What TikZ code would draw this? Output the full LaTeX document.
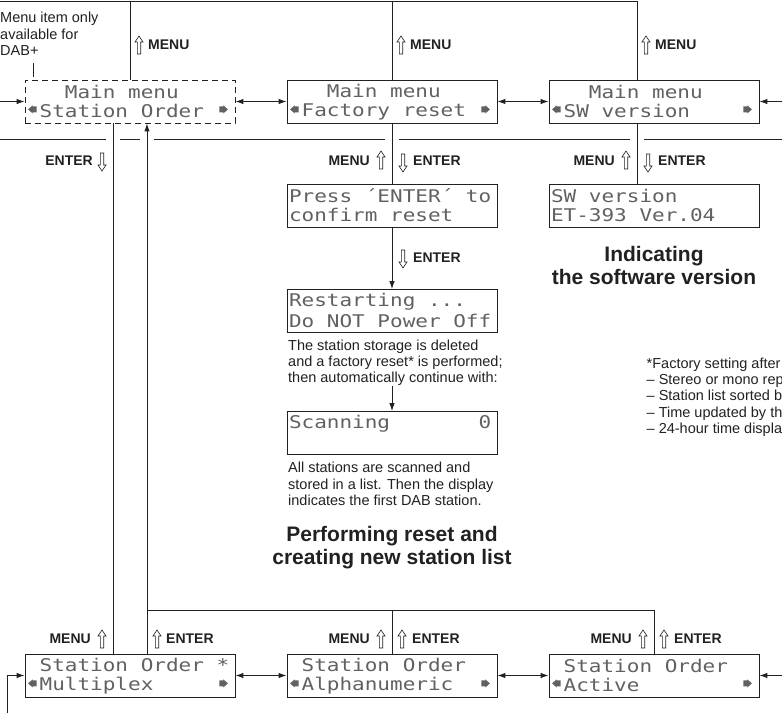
\documentclass[tikz,border=0pt]{standalone}
\usepackage{fontspec}
\setmainfont{Liberation Sans}
\newfontfamily\lcdfont[FakeStretch=1.2]{DejaVu Sans Mono}
\usetikzlibrary{arrows.meta,calc}
\definecolor{inkgray}{gray}{0.13}
\definecolor{lcdgray}{gray}{0.38}
\newcommand{\lcdstrut}{\rule[-3.5pt]{0pt}{19pt}}
\newcommand{\lsp}{\hphantom{x}}
\tikzset{
  lcdbox/.style={draw=inkgray,line width=0.8pt,minimum width=210pt,minimum height=43pt,
    text width=206pt,inner xsep=2pt,inner ysep=0pt,align=left,text=lcdgray,
    font=\lcdfont\fontsize{17.5}{19}\selectfont},
  lnk/.style={inkgray,line width=1pt},
  arr/.style={lnk,-{Latex[length=8pt,width=5.5pt]}},
  biarr/.style={lnk,{Latex[length=8pt,width=5.5pt]}-{Latex[length=8pt,width=5.5pt]}},
  keylab/.style={font=\bfseries\fontsize{14}{16}\selectfont,text=inkgray,inner sep=0pt},
  bodytxt/.style={font=\fontsize{14.5}{16.3}\selectfont,text=inkgray,inner sep=0pt,align=left},
  headtxt/.style={font=\bfseries\fontsize{21}{23.5}\selectfont,text=inkgray,inner sep=0pt,align=center},
  lmk/.pic={\fill[lcdgray] (-4.5,0) -- (0,-4) -- (0,4) -- cycle (0,-3) rectangle (4,3);},
  rmk/.pic={\fill[lcdgray] (4.5,0) -- (0,-4) -- (0,4) -- cycle (0,-3) rectangle (-4,3);},
  uarr/.pic={\draw[inkgray,line width=0.6pt,fill=white] (0,-9) -- (4,-3) -- (1.7,-3) -- (1.7,9)
    -- (-1.7,9) -- (-1.7,-3) -- (-4,-3) -- cycle;},
  darr/.pic={\draw[inkgray,line width=0.6pt,fill=white] (0,9) -- (4,3) -- (1.7,3) -- (1.7,-9)
    -- (-1.7,-9) -- (-1.7,3) -- (-4,3) -- cycle;},
}
\begin{document}
\begin{tikzpicture}[x=1pt,y=-1pt]
  \useasboundingbox (0,0) rectangle (782,713);
  % main menu row
  \node[lcdbox,dash pattern=on 6pt off 4pt] (mm1) at (130,101.5)
    {\lcdstrut\lsp\lsp\lsp Main\lsp menu\\\lcdstrut\lsp Station\lsp Order};
  \node[lcdbox] (mm2) at (392,101.5) {\lcdstrut\lsp\lsp\lsp Main\lsp menu\\\lcdstrut\lsp Factory\lsp reset};
  \node[lcdbox] (mm3) at (654,101.5) {\lcdstrut\lsp\lsp\lsp Main\lsp menu\\\lcdstrut\lsp SW\lsp version};
  % factory reset branch
  \node[lcdbox] (press) at (392,205.5) {\lcdstrut Press\lsp´ENTER´\lsp to\\\lcdstrut confirm\lsp reset};
  \node[lcdbox] (restart) at (392,311) {\lcdstrut Restarting\lsp...\\\lcdstrut Do\lsp NOT\lsp Power\lsp Off};
  \node[bodytxt,anchor=north west] (desc1) at (288,339.5)
    {The station storage is deleted\\and a factory reset* is performed;\\then automatically continue with:};
  \node[lcdbox] (scan) at (392,433)
    {\lcdstrut Scanning\lsp\lsp\lsp\lsp\lsp\lsp\lsp 0\\\lcdstrut};
  \node[bodytxt,anchor=north west] (desc2) at (288,462)
    {All stations are scanned and\\stored in a list. Then the display\\indicates the first DAB station.};
  \node[headtxt,anchor=north] (head2) at (392,526) {Performing reset and\\creating new station list};
  % software version branch
  \node[lcdbox] (swver) at (654,206) {\lcdstrut SW\lsp version\\\lcdstrut ET-393\lsp Ver.04};
  \node[headtxt,anchor=north] (head1) at (654,246) {Indicating\\the software version};
  \node[bodytxt,anchor=north west] (fnote) at (646.5,357.5)
    {*Factory setting after\\– Stereo or mono rep\\– Station list sorted b\\– Time updated by th\\– 24-hour time displa};
  % station order row
  \node[lcdbox] (so1) at (130,675.5) {\lcdstrut\lsp Station\lsp Order\lsp *\\\lcdstrut\lsp Multiplex};
  \node[lcdbox] (so2) at (392,675.5) {\lcdstrut\lsp Station\lsp Order\\\lcdstrut\lsp Alphanumeric};
  \node[lcdbox] (so3) at (654,675.5) {\lcdstrut\lsp Station\lsp Order\\\lcdstrut\lsp Active};
  \node[bodytxt,anchor=north west] (note) at (0,12) {Menu item only\\available for\\DAB+};
  % scroll marks
  \foreach \b in {mm1,mm2,mm3,so1,so2,so3}{
    \pic at ([shift={(8,-14)}]\b.south west) {lmk};
    \pic at ([shift={(-12,-14)}]\b.south east) {rmk};}
  % connectors
  \coordinate (tl) at (0,1);
  \coordinate (tr) at (637,1);
  \coordinate (lin) at (0,101.5);
  \coordinate (rin) at (782,101.5);
  \coordinate (bl) at (7,713);
  \coordinate (rin2) at (782,675.5);
  \coordinate (jn) at (147,610);
  \coordinate (nt) at (33,63);
  \draw[lnk] (tl) -- (tr) -- (tr |- mm3.north);
  \draw[lnk] (mm1.north) -- (mm1.north |- tl);
  \draw[lnk] (mm2.north) -- (mm2.north |- tl);
  \draw[lnk] (nt) -- ([yshift=3pt]nt |- mm1.north);
  \draw[arr] (lin) -- (mm1.west);
  \draw[biarr] (mm1.east) -- (mm2.west);
  \draw[biarr] (mm2.east) -- (mm3.west);
  \draw[arr] (rin) -- (mm3.east);
  \foreach \a/\b in {0/106,120/140,154/385,399/630,644/782}
    \draw[lnk] (\a,139) -- (\b,139);
  \draw[lnk] ([xshift=-17pt]mm1.south) -- ([xshift=-17pt]so1.north);
  \draw[arr] ([xshift=17pt]so1.north) -- ([xshift=17pt]mm1.south);
  \draw[lnk] (jn) -| (so3.north);
  \draw[lnk] (so2.north) -- (so2.north |- jn);
  \draw[lnk] (mm2) -- (press);
  \draw[arr] (press) -- (restart);
  \draw[arr] (desc1.south -| scan.north) -- (scan);
  \draw[lnk] ([xshift=-17pt]mm3.south) -- ([xshift=-17pt]swver.north);
  \draw[arr] (bl) |- (so1.west);
  \draw[biarr] (so1.east) -- (so2.west);
  \draw[biarr] (so2.east) -- (so3.west);
  \draw[arr] (rin2) -- (so3.east);
  % key labels
  \foreach \n/\xx in {a/130,b/392,c/637}{
    \pic at (\xx+9,45) {uarr};
    \node[keylab,anchor=west] (menu\n) at (\xx+18,45) {MENU};}
  \pic at (102,162) {darr};
  \node[keylab,anchor=east] (enta) at (93,161) {ENTER};
  \foreach \n/\xx in {b/392,c/637}{
    \node[keylab,anchor=east] (menub\n) at (\xx-22,161) {MENU};
    \pic at (\xx-11,160) {uarr};
    \pic at (\xx+11,163) {darr};
    \node[keylab,anchor=west] (entb\n) at (\xx+21,161) {ENTER};}
  \pic at (403,259) {darr};
  \node[keylab,anchor=west] (entc) at (413,258) {ENTER};
  \node[keylab,anchor=east] (menud) at (91,639) {MENU};
  \pic at (102,639) {uarr};
  \pic at (157,639) {uarr};
  \node[keylab,anchor=west] (entd) at (166,639) {ENTER};
  \foreach \n/\xx in {e/392,f/654}{
    \node[keylab,anchor=east] (menu\n) at (\xx-22,639) {MENU};
    \pic at (\xx-11,639) {uarr};
    \pic at (\xx+10,639) {uarr};
    \node[keylab,anchor=west] (ent\n) at (\xx+20,639) {ENTER};}
\end{tikzpicture}
\end{document}
